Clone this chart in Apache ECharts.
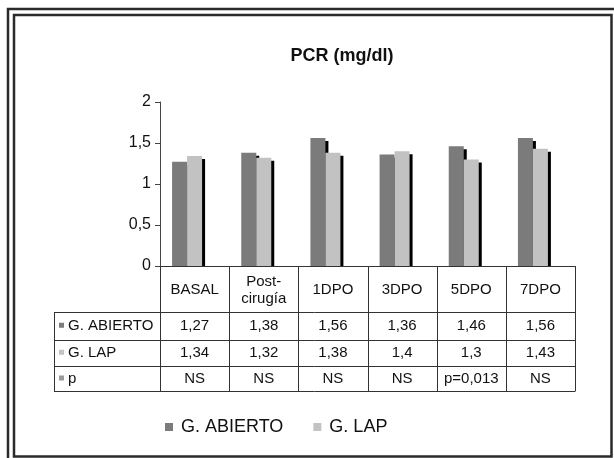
<!DOCTYPE html>
<html><head><meta charset="utf-8">
<script src="https://cdn.jsdelivr.net/npm/echarts@6/dist/echarts.min.js"></script>
<style>html,body{margin:0;padding:0;background:#fff}#c{width:614px;height:458px}</style>
</head><body><div id="c"></div>
<script>
var categories = ['BASAL', 'Post-\ncirugía', '1DPO', '3DPO', '5DPO', '7DPO'];
var abierto = [1.27, 1.38, 1.56, 1.36, 1.46, 1.56];
var lap = [1.34, 1.32, 1.38, 1.4, 1.3, 1.43];
var pValues = ['NS', 'NS', 'NS', 'NS', 'p=0,013', 'NS'];
var seriesNames = ['G. ABIERTO', 'G. LAP', 'p'];
var yTicks = [0, 0.5, 1, 1.5, 2];

var FONT = '"Liberation Sans", Arial, sans-serif';
var DARK = '#7b7b7b', LIGHT = '#c2c2c2', PKEY = '#9a9a9a';
var G = {left: 160, right: 575, top: 102, bottom: 266};
var rowY = [266, 312, 339.5, 366, 391];
var tableLeft = 54;

function fmt(v){ return String(v).replace('.', ','); }

var chart = echarts.init(document.getElementById('c'), null, {renderer: 'canvas'});

var shadow = {shadowColor: '#000', shadowOffsetX: 3, shadowOffsetY: 3, shadowBlur: 0};

var option = {
  animation: false,
  backgroundColor: '#fff',
  title: {
    text: 'PCR (mg/dl)', left: 337, top: 42, textAlign: 'center',
    textStyle: {fontFamily: FONT, fontSize: 18, fontWeight: 'bold', color: '#111'}
  },
  grid: {left: G.left, right: 614 - G.right, top: G.top, bottom: 458 - G.bottom, containLabel: false},
  xAxis: {
    type: 'category', data: categories,
    axisLine: {show: false}, axisTick: {show: false}, axisLabel: {show: false}
  },
  yAxis: {
    type: 'value', min: yTicks[0], max: yTicks[yTicks.length - 1], interval: 0.5,
    axisLine: {show: true, lineStyle: {color: '#444', width: 1}},
    axisTick: {show: true, length: 5, lineStyle: {color: '#444'}},
    splitLine: {show: false},
    axisLabel: {formatter: fmt, fontFamily: FONT, fontSize: 16, color: '#111', margin: 9}
  },
  legend: {
    data: [seriesNames[0], seriesNames[1]],
    left: 160, top: 413, icon: 'rect', itemWidth: 8, itemHeight: 8, itemGap: 30,
    textStyle: {fontFamily: FONT, fontSize: 18, color: '#111', padding: [0, 0, 0, 3]}
  },
  series: [
    {name: seriesNames[0], type: 'bar', data: abierto, barWidth: 15, barGap: '0%',
     itemStyle: Object.assign({color: DARK}, shadow)},
    {name: seriesNames[1], type: 'bar', data: lap, barWidth: 15, barGap: '0%',
     itemStyle: Object.assign({color: LIGHT}, shadow)},
    {name: seriesNames[2], type: 'bar', data: pValues.map(function(){ return null; }), barWidth: 15, barGap: '0%',
     itemStyle: {color: PKEY}}
  ]
};
chart.setOption(option);

// Build the data table under the plot
var colW = (G.right - G.left) / categories.length;
var els = [];
var LC = '#333';
function line(x1, y1, x2, y2){
  els.push({type: 'line', z: 101, shape: {x1: x1, y1: y1, x2: x2, y2: y2}, style: {stroke: LC, lineWidth: 1}});
}
function text(x, y, s, align, size){
  els.push({type: 'text', z: 102, x: x, y: y, style: {text: s, fill: '#111', font: (size || 15) + 'px ' + FONT, textAlign: align || 'center', textVerticalAlign: 'middle', lineHeight: 17}});
}
// white cover for the header row (hides bar shadows below the axis)
els.push({type: 'rect', z: 100, shape: {x: G.left + 0.5, y: rowY[0] + 0.5, width: G.right - G.left, height: rowY[1] - rowY[0] - 1}, style: {fill: '#fff'}});
// horizontal lines
line(G.left, rowY[0] + 0.5, G.right, rowY[0] + 0.5);
for (var r = 1; r < rowY.length; r++) line(tableLeft, Math.round(rowY[r]) + 0.5, G.right, Math.round(rowY[r]) + 0.5);
// vertical lines
line(tableLeft + 0.5, rowY[1], tableLeft + 0.5, rowY[4] + 0.5);
for (var c = 0; c <= categories.length; c++) {
  var x = Math.round(G.left + c * colW) + 0.5;
  line(x, rowY[0], x, rowY[4] + 0.5);
}
// header labels
categories.forEach(function(cat, i){
  var cx = G.left + (i + 0.5) * colW;
  text(cx, (rowY[0] + rowY[1]) / 2 + 1, cat, 'center', 15);
});
// rows
var rows = [abierto.map(fmt), lap.map(fmt), pValues];
var keyColors = [DARK, LIGHT, PKEY];
rows.forEach(function(vals, r){
  var cy = (rowY[r + 1] + rowY[r + 2]) / 2;
  els.push({type: 'rect', z: 102, shape: {x: 59, y: cy - 3, width: 5, height: 5}, style: {fill: keyColors[r]}});
  text(68, cy, seriesNames[r], 'left', 15);
  vals.forEach(function(v, i){
    text(G.left + (i + 0.5) * colW, cy, v, 'center', 15);
  });
});
// double frame
els.push({type: 'rect', z: 103, shape: {x: 8, y: 9, width: 620, height: 470}, style: {fill: null, stroke: '#2a2a2a', lineWidth: 2.5}});
els.push({type: 'rect', z: 103, shape: {x: 14, y: 15, width: 597.5, height: 441.5}, style: {fill: null, stroke: '#2a2a2a', lineWidth: 2.5}});

chart.setOption({graphic: {elements: els}});
</script>
</body></html>
